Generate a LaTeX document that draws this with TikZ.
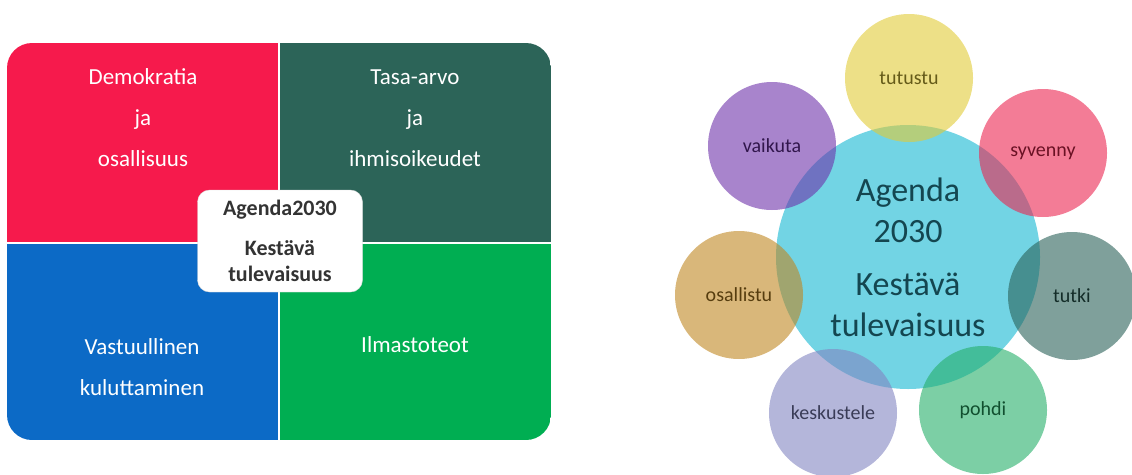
\documentclass[tikz,border=0pt]{standalone}
\usepackage{fontspec}
\setmainfont{Carlito}

\definecolor{demored}{RGB}{246,26,76}
\definecolor{tasagreen}{RGB}{44,100,88}
\definecolor{vastblue}{RGB}{12,106,198}
\definecolor{ilmagreen}{RGB}{0,174,82}
\definecolor{hubcyan}{RGB}{114,212,228}
\definecolor{hubtext}{RGB}{20,70,80}
\definecolor{tutustucol}{RGB}{225,203,55}
\definecolor{syvennycol}{RGB}{235,37,80}
\definecolor{tutkicol}{RGB}{42,97,88}
\definecolor{pohdicol}{RGB}{37,175,105}
\definecolor{keskustelecol}{RGB}{130,133,193}
\definecolor{osallistucol}{RGB}{192,135,33}
\definecolor{vaikutacol}{RGB}{110,50,170}

\tikzset{
  quadtext/.style={text=white, align=center, font=\fontsize{23}{41}\selectfont},
  agendabox/.style={fill=white, draw=black!15, rounded corners=12pt,
    minimum width=165pt, minimum height=102pt, align=center,
    text=black!80, font=\bfseries\fontsize{22}{26}\selectfont},
  petal/.style={circle, minimum size=128pt, inner sep=0pt, fill=#1,
    fill opacity=0.6, text opacity=1, text=#1!45!black,
    font=\fontsize{20}{22}\selectfont}
}

\begin{document}
\begin{tikzpicture}[x=1pt,y=-1pt]
\useasboundingbox (0,0) rectangle (1132,474);

% nelikentta
\begin{scope}
  \clip[rounded corners=25pt] (7,43) rectangle (551,440);
  \fill[demored] (7,43) rectangle (279,243);
  \fill[tasagreen] (279,43) rectangle (551,243);
  \fill[vastblue] (7,243) rectangle (279,440);
  \fill[ilmagreen] (279,243) rectangle (551,440);
\end{scope}
\draw[white, line width=1.2pt] (279,43) -- (279,440);
\draw[white, line width=1.2pt] (7,243) -- (551,243);

\node[quadtext] (demo) at (143,118) {Demokratia\\ja\\osallisuus};
\node[quadtext] (tasa) at (415,118) {Tasa-arvo\\ja\\ihmisoikeudet};
\node[quadtext] (vast) at (142,367) {Vastuullinen\\kuluttaminen};
\node[quadtext] (ilma) at (415,345) {Ilmastoteot};

\node[agendabox] (agenda) at (280,241) {Agenda2030\\[14pt]Kestävä\\tulevaisuus};

% kukka
\node[circle, minimum size=264pt, inner sep=0pt, fill=hubcyan] (hub) at (908,257) {};

\node[petal=tutustucol] (tutustu) at (909,78) {tutustu};
\node[petal=syvennycol] (syvenny) at (1043,153) {syvenny};
\node[petal=tutkicol] (tutki) at (1072,296) {tutki};
\node[petal=pohdicol] (pohdi) at (983,410) {pohdi};
\node[petal=keskustelecol] (keskustele) at (833,413) {keskustele};
\node[petal=osallistucol] (osallistu) at (739,295) {osallistu};
\node[petal=vaikutacol] (vaikuta) at (772,146) {vaikuta};

\node[text=hubtext, align=center, font=\fontsize{34}{41}\selectfont] (hublabel) at (hub) {Agenda\\2030\\[12pt]Kestävä\\tulevaisuus};
\end{tikzpicture}
\end{document}
